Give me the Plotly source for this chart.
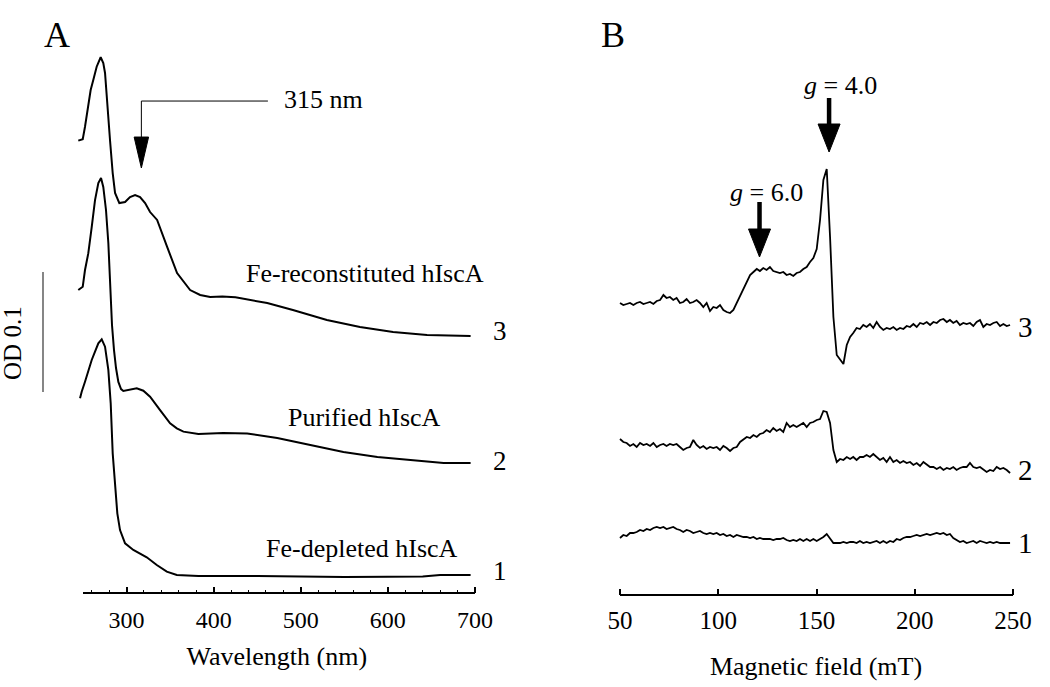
import plotly.graph_objects as go

# ---------------- Panel A: UV-visible absorption (traces stacked, OD) ----------------
wl_reconstituted = [244.6, 249.7, 252.3, 256.1, 258.8, 261.8, 265.7, 270.3, 273.3, 275.3, 277.9,
                    281.0, 284.1, 286.8, 291.7, 298.3, 304.0, 309.8, 315.5, 321.3, 327.0, 335.1,
                    346.6, 358.0, 373.0, 384.5, 396.0, 410.0, 425.0, 440.0, 461.5, 491.0, 530.0,
                    568.0, 606.0, 645.0, 695.0]
od_reconstituted = [0.3628, 0.3640, 0.3744, 0.3911, 0.4050, 0.4133, 0.4244, 0.4323, 0.4275, 0.4192,
                    0.3908, 0.3633, 0.3358, 0.3192, 0.3108, 0.3117, 0.3158, 0.3175, 0.3158, 0.3108,
                    0.3033, 0.2967, 0.2742, 0.2525, 0.2383, 0.2342, 0.2325, 0.2330, 0.2322, 0.2305,
                    0.2275, 0.2217, 0.2133, 0.2075, 0.2033, 0.2008, 0.2000]

wl_purified = [244.6, 249.7, 252.3, 256.1, 260.0, 263.8, 267.6, 270.7, 273.3, 276.4, 279.1, 281.0,
               283.3, 285.6, 287.9, 290.6, 293.7, 296.3, 304.0, 311.7, 319.3, 327.0, 338.5, 350.0,
               357.7, 365.3, 382.5, 411.0, 438.5, 473.0, 511.0, 549.0, 588.0, 626.0, 664.0, 695.0]
od_purified = [0.2383, 0.2411, 0.2550, 0.2690, 0.2908, 0.3133, 0.3275, 0.3317, 0.3242, 0.3050,
               0.2775, 0.2425, 0.2092, 0.1883, 0.1733, 0.1617, 0.1558, 0.1542, 0.1550, 0.1564,
               0.1544, 0.1494, 0.1383, 0.1273, 0.1231, 0.1203, 0.1183, 0.1192, 0.1188, 0.1150,
               0.1092, 0.1033, 0.0992, 0.0967, 0.0942, 0.0942]

wl_depleted = [246.6, 248.5, 252.3, 256.1, 260.0, 263.8, 267.6, 271.5, 275.3, 279.1, 281.8, 284.1,
               286.8, 289.4, 292.5, 298.3, 307.8, 315.5, 323.2, 334.7, 346.2, 357.7, 382.5, 450.0,
               500.0, 550.0, 600.0, 640.0, 660.0, 695.0]
od_depleted = [0.1481, 0.1536, 0.1619, 0.1717, 0.1800, 0.1869, 0.1939, 0.1972, 0.1911, 0.1717,
               0.1439, 0.1022, 0.0744, 0.0522, 0.0383, 0.0272, 0.0217, 0.0189, 0.0156, 0.0092,
               0.0036, 0.0008, 0.0000, 0.0000, -0.0006, -0.0008, -0.0006, -0.0004, 0.0008, 0.0008]

sample_names = ["Fe-reconstituted hIscA", "Purified hIscA", "Fe-depleted hIscA"]
trace_numbers = ["3", "2", "1"]
wl_ticks = [300, 400, 500, 600, 700]

# ---------------- Panel B: EPR spectra (traces stacked, a.u.) ----------------
field_mT = [50.0, 51.7, 53.4, 55.1, 56.8, 58.5, 60.2, 61.9, 63.6, 65.3,
            67.0, 68.7, 70.4, 72.1, 73.7, 75.4, 77.1, 78.8, 80.5, 82.2,
            83.9, 85.6, 87.3, 89.0, 90.7, 92.4, 94.1, 95.8, 97.5, 99.2,
            100.9, 102.6, 104.3, 106.0, 107.7, 109.4, 111.1, 112.8, 114.5, 116.2,
            117.9, 119.6, 121.2, 122.9, 124.6, 126.3, 128.0, 129.7, 131.4, 133.1,
            134.8, 136.5, 138.2, 139.9, 141.6, 143.3, 145.0, 146.7, 148.4, 150.1,
            151.8, 153.5, 155.2, 156.9, 158.6, 160.3, 162.0, 163.7, 165.4, 167.1,
            168.7, 170.4, 172.1, 173.8, 175.5, 177.2, 178.9, 180.6, 182.3, 184.0,
            185.7, 187.4, 189.1, 190.8, 192.5, 194.2, 195.9, 197.6, 199.3, 201.0,
            202.7, 204.4, 206.1, 207.8, 209.5, 211.2, 212.9, 214.6, 216.3, 217.9,
            219.6, 221.3, 223.0, 224.7, 226.4, 228.1, 229.8, 231.5, 233.2, 234.9,
            236.6, 238.3, 240.0, 241.7, 243.4, 245.1, 246.8, 248.5]

epr_reconstituted = [292, 290, 291, 292, 290, 292, 293, 291, 292, 293,
                     291, 294, 295, 300, 297, 298, 295, 297, 292, 293,
                     296, 292, 293, 295, 292, 288, 292, 284, 288, 287,
                     290, 285, 283, 282, 285, 292, 298, 305, 312, 320,
                     323, 326, 324, 327, 325, 328, 324, 323, 322, 323,
                     320, 321, 319, 322, 323, 326, 328, 333, 337, 346,
                     375, 415, 426, 358, 278, 240, 235, 231, 250, 258,
                     262, 267, 266, 270, 268, 271, 267, 273, 268, 265,
                     267, 266, 268, 265, 267, 266, 269, 268, 271, 268,
                     272, 271, 273, 270, 273, 272, 275, 276, 273, 275,
                     272, 274, 270, 272, 271, 272, 269, 273, 275, 268,
                     271, 270, 272, 273, 269, 271, 269, 270]

epr_purified = [156, 153, 152, 149, 151, 148, 152, 150, 151, 149,
                152, 148, 150, 151, 149, 151, 150, 151, 148, 145,
                147, 148, 155, 150, 147, 149, 146, 148, 147, 148,
                145, 149, 147, 144, 147, 148, 153, 156, 158, 157,
                160, 158, 161, 162, 165, 163, 167, 164, 166, 163,
                172, 168, 170, 168, 170, 172, 168, 172, 173, 175,
                176, 184, 183, 172, 145, 133, 136, 135, 138, 136,
                138, 135, 138, 138, 140, 138, 141, 138, 135, 137,
                133, 138, 133, 135, 132, 134, 132, 133, 130, 132,
                129, 133, 130, 128, 128, 126, 128, 125, 127, 126,
                128, 125, 127, 128, 128, 132, 128, 127, 128, 125,
                123, 125, 124, 128, 126, 127, 125, 122]

epr_depleted = [57, 60, 59, 62, 62, 63, 65, 64, 66, 65,
                67, 68, 67, 68, 66, 67, 68, 66, 65, 63,
                65, 64, 62, 63, 64, 62, 61, 62, 61, 62,
                60, 61, 59, 60, 58, 60, 59, 58, 58, 57,
                58, 56, 57, 56, 56, 56, 55, 56, 56, 57,
                55, 54, 55, 54, 56, 54, 56, 54, 56, 54,
                56, 58, 61, 57, 52, 52, 52, 53, 52, 53,
                53, 52, 54, 52, 53, 52, 53, 54, 52, 54,
                52, 54, 53, 56, 55, 57, 58, 58, 59, 60,
                59, 60, 61, 60, 61, 62, 61, 62, 60, 61,
                57, 55, 53, 54, 52, 53, 54, 52, 54, 53,
                52, 53, 52, 53, 52, 52, 52, 52]

field_ticks = [50, 100, 150, 200, 250]
g_labels = ["<i>g</i> = 6.0", "<i>g</i> = 4.0"]
g_fields = [121.0, 156.4]

assert len(field_mT) == len(epr_reconstituted) == len(epr_purified) == len(epr_depleted)

# ---------------- figure ----------------
W, H = 1050, 687
FONT = "Liberation Serif"


def px(x):
    return x / W


def py(y):
    return 1 - y / H


def f(size):
    return dict(family=FONT, size=size, color="black")


fig = go.Figure()

for wl, od, name in [(wl_reconstituted, od_reconstituted, sample_names[0]),
                     (wl_purified, od_purified, sample_names[1]),
                     (wl_depleted, od_depleted, sample_names[2])]:
    fig.add_trace(go.Scatter(x=wl, y=od, mode="lines", line=dict(color="black", width=2),
                             name=name, xaxis="x", yaxis="y", showlegend=False))

for vals, name in [(epr_reconstituted, sample_names[0]),
                   (epr_purified, sample_names[1]),
                   (epr_depleted, sample_names[2])]:
    fig.add_trace(go.Scatter(x=field_mT, y=vals, mode="lines",
                             line=dict(color="black", width=1.8), name=name,
                             xaxis="x2", yaxis="y2", showlegend=False))

ann = []
shapes = []

# panel letters
ann.append(dict(text="A", x=px(57), y=py(35), xref="paper", yref="paper", showarrow=False,
                font=f(36), xanchor="center", yanchor="middle"))
ann.append(dict(text="B", x=px(613), y=py(35), xref="paper", yref="paper", showarrow=False,
                font=f(36), xanchor="center", yanchor="middle"))

# panel A sample labels
for name, xx, yy in [(sample_names[0], 574, 0.2525), (sample_names[1], 573.6, 0.1317),
                     (sample_names[2], 570.7, 0.0233)]:
    ann.append(dict(text=name, x=xx, y=yy, xref="x", yref="y", showarrow=False,
                    font=f(26), xanchor="center", yanchor="middle"))
for num, yy in zip(trace_numbers, [331, 461, 571]):
    ann.append(dict(text=num, x=px(500), y=py(yy), xref="paper", yref="paper", showarrow=False,
                    font=f(27), xanchor="center", yanchor="middle"))

# 315 nm marker
ann.append(dict(text="315 nm", x=526.5, y=0.3967, xref="x", yref="y", showarrow=False,
                font=f(26), xanchor="center", yanchor="middle"))
shapes.append(dict(type="line", xref="x", yref="y", x0=317, x1=462.3, y0=0.3958, y1=0.3958,
                   line=dict(color="black", width=1)))
shapes.append(dict(type="line", xref="x", yref="y", x0=317, x1=317, y0=0.3958, y1=0.36,
                   line=dict(color="black", width=1)))
shapes.append(dict(type="path", xref="x", yref="y",
                   path="M 308.7,0.3658 L 325.3,0.3658 L 317,0.340 Z",
                   fillcolor="black", line=dict(color="black", width=1)))

# OD scale bar
shapes.append(dict(type="line", xref="paper", yref="y", x0=px(43), x1=px(43), y0=0.1533, y1=0.2533,
                   line=dict(color="#444444", width=1.3)))
ann.append(dict(text="OD 0.1", x=px(13), y=0.1942, xref="paper", yref="y", showarrow=False,
                textangle=-90, font=f(25), xanchor="center", yanchor="middle"))

# panel B labels
for num, yy in zip(trace_numbers, [327, 470, 543]):
    ann.append(dict(text=num, x=px(1025), y=py(yy), xref="paper", yref="paper", showarrow=False,
                    font=f(29), xanchor="center", yanchor="middle"))

# g markers (arrows)
ann.append(dict(text=g_labels[0], x=124.8, y=403, xref="x2", yref="y2", showarrow=False,
                font=f(26), xanchor="center", yanchor="middle"))
ann.append(dict(text=g_labels[1], x=162.0, y=510, xref="x2", yref="y2", showarrow=False,
                font=f(26), xanchor="center", yanchor="middle"))
for gx, y_top, y_head, y_tip in [(g_fields[0], 393, 366, 338), (g_fields[1], 497, 471, 443)]:
    shapes.append(dict(type="line", xref="x2", yref="y2", x0=gx, x1=gx, y0=y_top, y1=y_head - 2,
                       line=dict(color="black", width=4.5)))
    shapes.append(dict(type="path", xref="x2", yref="y2",
                       path=f"M {gx - 5.6},{y_head} L {gx + 5.6},{y_head} L {gx},{y_tip} Z",
                       fillcolor="black", line=dict(color="black", width=1)))

# axis lines
shapes.append(dict(type="line", xref="x", yref="y domain", x0=250, x1=700, y0=0, y1=0,
                   line=dict(color="black", width=2)))
shapes.append(dict(type="line", xref="x2", yref="y2 domain", x0=50, x1=250, y0=0, y1=0,
                   line=dict(color="black", width=2)))

fig.update_layout(
    width=W, height=H,
    margin=dict(l=0, r=0, t=0, b=0, pad=0, autoexpand=False),
    paper_bgcolor="white", plot_bgcolor="white",
    font=f(24),
    showlegend=False,
    annotations=ann,
    shapes=shapes,
    xaxis=dict(domain=[px(76.9), px(476.7)], range=[243, 702], anchor="y", automargin=False,
               showline=False, showgrid=False, zeroline=False,
               tickmode="array", tickvals=wl_ticks, ticktext=[str(t) for t in wl_ticks],
               ticks="inside", ticklen=6, tickwidth=1.5, tickcolor="black",
               minor=dict(tickmode="linear", tick0=0, dtick=20, ticks="inside", ticklen=3,
                          tickwidth=1.3, tickcolor="black", showgrid=False),
               tickfont=f(24), ticklabelstandoff=10,
               title=dict(text="Wavelength (nm)", font=f(26), standoff=14)),
    yaxis=dict(domain=[py(593), py(20)], range=[-0.01417, 0.46333], visible=False,
               anchor="x", automargin=False),
    xaxis2=dict(domain=[px(617.05), px(1014.97)], range=[48.5, 251], anchor="y2", automargin=False,
                showline=False, showgrid=False, zeroline=False,
                tickmode="array", tickvals=field_ticks, ticktext=[str(t) for t in field_ticks],
                ticks="inside", ticklen=6, tickwidth=2, tickcolor="black",
                tickfont=f(25), ticklabelstandoff=8,
                title=dict(text="Magnetic field (mT)", font=f(26), standoff=23)),
    yaxis2=dict(domain=[py(595), py(20)], range=[0, 575], visible=False, anchor="x2",
                automargin=False),
)

fig.write_html("out.html", config={"displayModeBar": False},
               post_script="document.body.style.margin='0';")
